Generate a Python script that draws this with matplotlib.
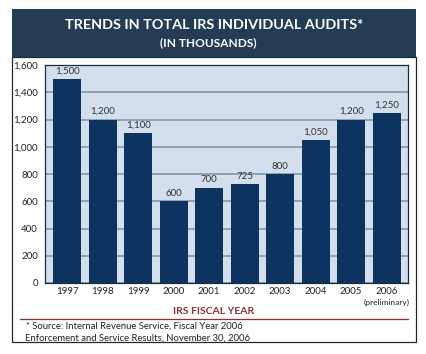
import matplotlib
matplotlib.use("Agg")
import matplotlib.pyplot as plt
from matplotlib.patches import Rectangle
from matplotlib.lines import Line2D

years = ["1997", "1998", "1999", "2000", "2001", "2002", "2003", "2004", "2005", "2006"]
audits = [1500, 1200, 1100, 600, 700, 725, 800, 1050, 1200, 1250]
yticks = [0, 200, 400, 600, 800, 1000, 1200, 1400, 1600]

C_HEAD = "#243d55"
C_BAR = "#0d3461"
C_BG = "#d3dfec"
C_GRID = "#8796a8"
C_RED = "#8b2f2f"

plt.rcParams["font.family"] = ["Lato", "DejaVu Sans"]

W, H = 427, 354
fig = plt.figure(figsize=(W / 100, H / 100), dpi=100)


def fx(px):
    return px / W


def fy(py):
    return 1 - py / H


# header band and outer frame
fig.patches.append(Rectangle((fx(12), fy(57)), fx(416) - fx(12), fy(9) - fy(57),
                             transform=fig.transFigure, facecolor=C_HEAD, edgecolor="none"))
fig.patches.append(Rectangle((fx(12), fy(342)), fx(416) - fx(12), fy(57) - fy(342),
                             transform=fig.transFigure, facecolor="none", edgecolor="#1a2a3a", lw=0.9))
fig.text(fx(214), fy(25), "TRENDS IN TOTAL IRS INDIVIDUAL AUDITS*", color="white",
         fontsize=10.4, fontweight="bold", ha="center", va="center")
fig.text(fx(208), fy(43), "(IN THOUSANDS)", color="white",
         fontsize=8.6, fontweight="bold", ha="center", va="center")

ax = fig.add_axes([fx(45), fy(283), fx(408) - fx(45), fy(65) - fy(283)])
ax.set_facecolor(C_BG)
x = range(len(years))
ax.bar(x, audits, width=0.79, color=C_BAR, zorder=3)
for xi, v in zip(x, audits):
    ax.text(xi, v + 25, f"{v:,}", ha="center", va="bottom", fontsize=7, color="#333333", zorder=4)

ax.set_xlim(-0.62, 9.6)
ax.set_ylim(0, 1600)
ax.set_yticks(yticks)
ax.set_yticklabels([f"{t:,}" for t in yticks])
ax.set_xticks(list(x))
ax.set_xticklabels(years)
ax.tick_params(axis="both", length=0, labelsize=7, colors="#222222")
ax.tick_params(axis="y", pad=5)
ax.tick_params(axis="x", pad=3)
ax.yaxis.grid(True, color=C_GRID, lw=1.2, zorder=1)
ax.set_axisbelow(True)
for s in ax.spines.values():
    s.set_color("#1a2a3a")
    s.set_linewidth(0.9)

fig.text(fx(387), fy(302), "(preliminary)", fontsize=6, ha="center", va="center", color="#222222")
fig.text(fx(214), fy(311), "IRS FISCAL YEAR", fontsize=7.5, fontweight="bold",
         ha="center", va="center", color=C_RED)
fig.lines.append(Line2D([fx(20), fx(408)], [fy(319), fy(319)], transform=fig.transFigure,
                        color=C_RED, lw=0.9))
fig.text(fx(26), fy(326), "* Source: Internal Revenue Service, Fiscal Year 2006",
         fontsize=6.8, ha="left", va="center", color="#222222")
fig.text(fx(25), fy(338), "Enforcement and Service Results, November 30, 2006",
         fontsize=6.8, ha="left", va="center", color="#222222")

fig.savefig("out.png", dpi=100)
